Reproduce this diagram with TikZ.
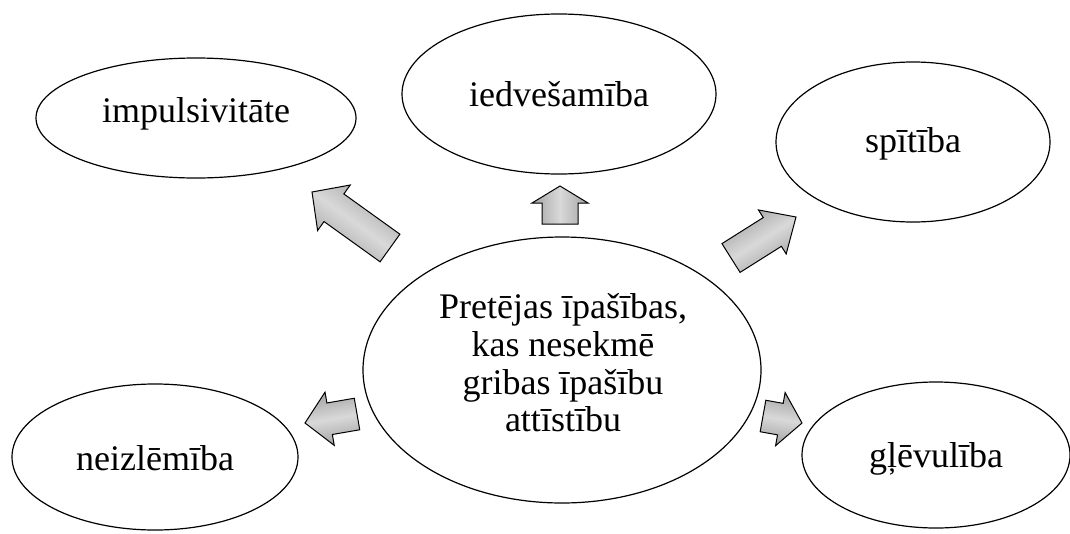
\documentclass[tikz,border=0pt]{standalone}
\usepackage{fontspec}
\setmainfont{Liberation Serif}
\usetikzlibrary{shapes.geometric,calc}
\newcommand\blockarr[6]{%
  \coordinate (hb) at ($(#2)!#5!(#1)$);
  \draw[arrowbox, shading angle=#6]
    ($(#1)!#3!90:(#2)$) -- ($(hb)!#3!90:(#2)$) -- ($(hb)!#4!90:(#2)$) -- (#2)
    -- ($(hb)!#4!-90:(#2)$) -- ($(hb)!#3!-90:(#2)$) -- ($(#1)!#3!-90:(#2)$) -- cycle;
}
\begin{document}
\begin{tikzpicture}[x=1pt,y=-1pt,
  bubble/.style={ellipse, draw=black, line width=1.2pt, fill=white, inner sep=0pt,
    font=\fontsize{36pt}{37.7pt}\selectfont},
  ctext/.style={align=center, inner sep=0pt, font=\fontsize{36pt}{37.7pt}\selectfont},
  arrowbox/.style={draw=black, line width=1pt, line join=miter,
    top color=gray!72, bottom color=gray!72, middle color=gray!30}
]
\useasboundingbox (0,0) rectangle (1070,533);

% outer ellipses
\node[bubble, minimum width=320pt, minimum height=120pt, text height=22pt, text depth=14pt]
  (imp) at (196,118) {impulsivitāte};
\node[bubble, minimum width=314pt, minimum height=160pt, text height=24pt, text depth=0pt]
  (ied) at (559,94) {iedvešamība};
\node[bubble, minimum width=274pt, minimum height=160pt, text height=22pt, text depth=2pt]
  (spi) at (913,142) {spītība};
\node[bubble, minimum width=286pt, minimum height=146pt, text height=26pt, text depth=0pt]
  (nei) at (155,457) {neizlēmība};
\node[bubble, minimum width=268pt, minimum height=146pt, text height=24pt, text depth=0pt]
  (gle) at (936,455) {gļēvulība};

% centre ellipse
\node[bubble, minimum width=398pt, minimum height=266pt] (c) at (562,370) {};
\node[ctext] (ct) at (563,363) {Pretējas īpašības,\\kas nesekmē\\gribas īpašību\\attīstību};

% block arrows
\coordinate (a1t) at (390,248); \coordinate (a1h) at (312,192);
\coordinate (a2t) at (560,224); \coordinate (a2h) at (560,186);
\coordinate (a3t) at (731,258); \coordinate (a3h) at (796,217);
\coordinate (a4t) at (357,414); \coordinate (a4h) at (305,423);
\coordinate (a5t) at (763,416); \coordinate (a5h) at (802,423);
\blockarr{a1t}{a1h}{17pt}{28pt}{27pt}{144}
\blockarr{a2t}{a2h}{18pt}{28pt}{17pt}{90}
\blockarr{a3t}{a3h}{17pt}{26pt}{28pt}{32}
\blockarr{a4t}{a4h}{16pt}{27pt}{25pt}{190}
\blockarr{a5t}{a5h}{16pt}{27pt}{22pt}{-10}
\end{tikzpicture}
\end{document}
